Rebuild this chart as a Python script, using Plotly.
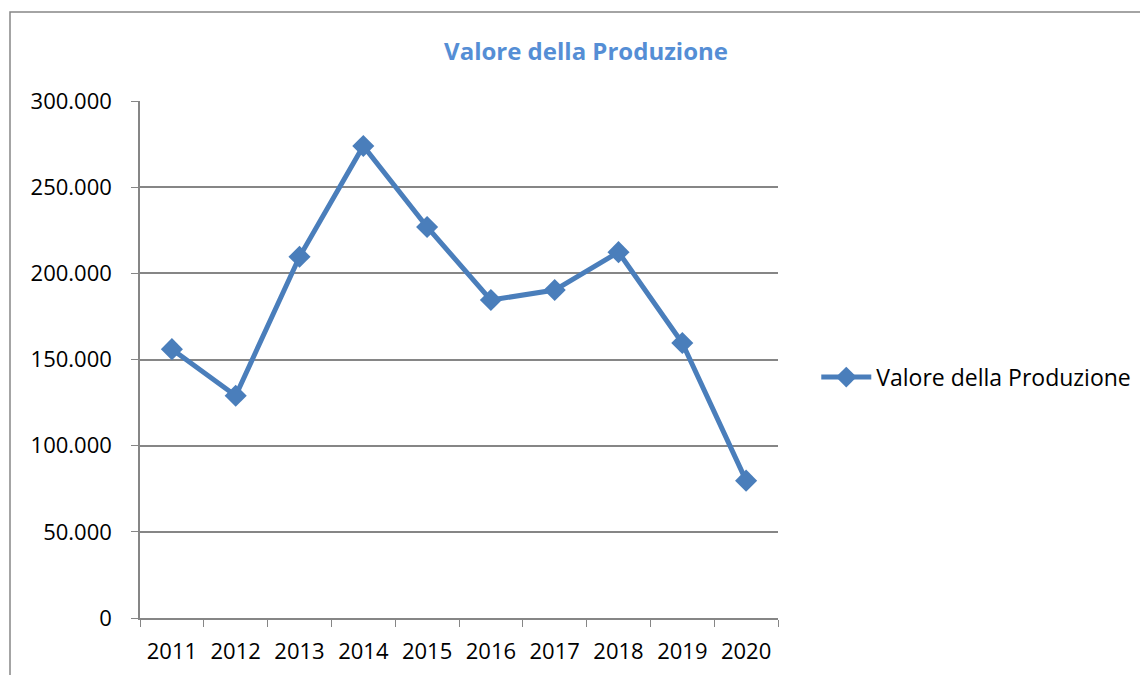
import plotly.graph_objects as go

anni = ["2011", "2012", "2013", "2014", "2015", "2016", "2017", "2018", "2019", "2020"]
valore_produzione = [156000, 129000, 209600, 273900, 226900, 184500, 190300, 212300, 159600, 79700]

tick_vals = [0, 50000, 100000, 150000, 200000, 250000, 300000]
tick_text = ["0", "50.000", "100.000", "150.000", "200.000", "250.000", "300.000"]

fig = go.Figure()
fig.add_trace(go.Scatter(
    x=anni, y=valore_produzione,
    mode="lines+markers",
    name="Valore della Produzione",
    line=dict(color="#4a7ebb", width=5),
    marker=dict(symbol="diamond", size=17, color="#4a7ebb"),
))

# la pagina ha 8px di margine nel body: area del grafico spostata di conseguenza
fig.update_layout(
    width=1148, height=675,
    margin=dict(l=132, r=378, t=93, b=65),
    paper_bgcolor="white", plot_bgcolor="white",
    font=dict(family="Open Sans, sans-serif", size=22, color="black"),
    title=dict(text="<b>Valore della Produzione</b>", x=0.5035, xanchor="center",
               y=0.935, yanchor="middle",
               font=dict(size=24, color="#558ed5")),
    showlegend=True,
    legend=dict(x=1.06, y=0.466, xanchor="left", yanchor="middle",
                font=dict(size=23), itemwidth=50, bgcolor="rgba(0,0,0,0)"),
    xaxis=dict(type="category", range=[-0.5, 9.5], showgrid=False,
               showline=True, linecolor="#868686", linewidth=1.5,
               ticks="outside", ticklen=7, tickcolor="#868686",
               tickson="boundaries", zeroline=False, ticklabelstandoff=13),
    yaxis=dict(range=[0, 300000], tickvals=tick_vals, ticktext=tick_text,
               showgrid=True, gridcolor="#868686", gridwidth=1.5,
               showline=True, linecolor="#868686", linewidth=1.5,
               ticks="outside", ticklen=7, tickcolor="#868686",
               zeroline=False, ticklabelstandoff=15),
)

# cornice del grafico
fig.add_shape(type="rect", xref="paper", yref="paper",
              x0=(10 - 140) / 638, x1=(1147 - 140) / 638,
              y0=(618 - 690) / 517, y1=(618 - 12) / 517,
              line=dict(color="#868686", width=1.5), layer="below")

fig.write_html("out.html")
